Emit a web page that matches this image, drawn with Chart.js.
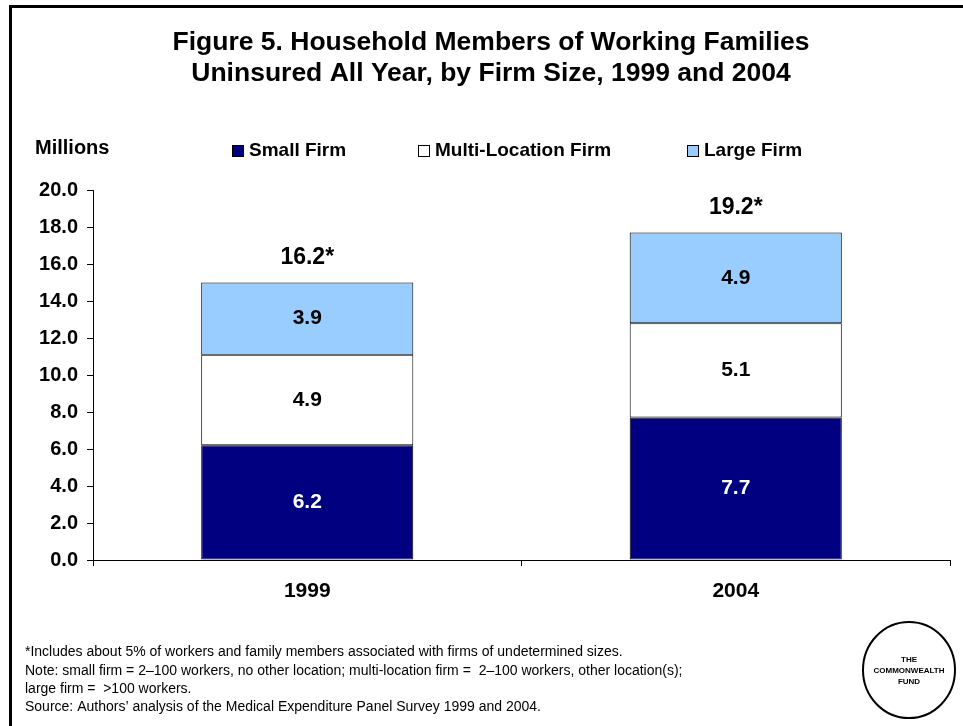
<!DOCTYPE html>
<html>
<head>
<meta charset="utf-8">
<script src="https://cdn.jsdelivr.net/npm/chart.js@4"></script>
<style>
  body { margin: 0; background: #fff; }
  canvas { display: block; }
</style>
</head>
<body>
<canvas id="chart" width="963" height="726"></canvas>
<script>
const years = ['1999', '2004'];
const smallFirm = [6.2, 7.7];
const multiLocation = [4.9, 5.1];
const largeFirm = [3.9, 4.9];
const totals = ['16.2*', '19.2*'];
const seriesNames = ['Small Firm', 'Multi-Location Firm', 'Large Firm'];
const seriesColors = ['#000080', '#ffffff', '#99ccff'];
const labelColors = ['#ffffff', '#000000', '#000000'];

const titleLines = [
  'Figure 5. Household Members of Working Families',
  'Uninsured All Year, by Firm Size, 1999 and 2004',
];
const notes = [
  '*Includes about 5% of workers and family members associated with firms of undetermined sizes.',
  'Note: small firm = 2\u2013100 workers, no other location; multi-location firm =  2\u2013100 workers, other location(s);',
  'large firm =  >100 workers.',
  'Source: Authors\u2019 analysis of the Medical Expenditure Panel Survey 1999 and 2004.',
];

const FONT = 'Arial, "Liberation Sans", sans-serif';

// draws frame, title, legend, notes, logo and value labels
const decor = {
  id: 'decor',
  afterDraw(chart) {
    const ctx = chart.ctx;
    ctx.save();

    ctx.lineWidth = 3;
    ctx.strokeStyle = '#000';
    ctx.strokeRect(10.5, 6.5, 1000, 800);

    ctx.fillStyle = '#000';
    ctx.textAlign = 'center';
    ctx.textBaseline = 'middle';
    ctx.font = 'bold 26.5px ' + FONT;
    ctx.fillText(titleLines[0], 491, 43);
    ctx.fillText(titleLines[1], 491, 74);

    ctx.textAlign = 'left';
    ctx.font = 'bold 20px ' + FONT;
    ctx.fillText('Millions', 35, 148);

    // legend
    ctx.font = 'bold 19px ' + FONT;
    const legendX = [232, 418, 687];
    seriesNames.forEach((name, i) => {
      ctx.fillStyle = seriesColors[i];
      ctx.fillRect(legendX[i], 145, 12, 12);
      ctx.lineWidth = 1;
      ctx.strokeStyle = '#000';
      ctx.strokeRect(legendX[i] + 0.5, 145.5, 11, 11);
      ctx.fillStyle = '#000';
      ctx.fillText(name, legendX[i] + 17, 151);
    });

    // segment values
    ctx.textAlign = 'center';
    ctx.font = 'bold 21px ' + FONT;
    chart.data.datasets.forEach((ds, i) => {
      chart.getDatasetMeta(i).data.forEach((bar, j) => {
        ctx.fillStyle = labelColors[i];
        ctx.fillText(ds.data[j].toFixed(1), bar.x, (bar.y + bar.base) / 2);
      });
    });

    // totals above the stacks
    ctx.fillStyle = '#000';
    ctx.font = 'bold 23px ' + FONT;
    const top = chart.getDatasetMeta(2).data;
    top.forEach((bar, j) => {
      ctx.fillText(totals[j], bar.x, bar.y - 25);
    });

    // notes
    ctx.textAlign = 'left';
    ctx.font = '14px ' + FONT;
    const noteY = [652, 671, 689, 707];
    notes.forEach((t, i) => ctx.fillText(t, 25, noteY[i]));

    // logo
    ctx.lineWidth = 2;
    ctx.beginPath();
    ctx.ellipse(909, 670, 46, 48, 0, 0, Math.PI * 2);
    ctx.stroke();
    ctx.textAlign = 'center';
    ctx.font = 'bold 8px ' + FONT;
    ctx.fillText('THE', 909, 660);
    ctx.fillText('COMMONWEALTH', 909, 671);
    ctx.fillText('FUND', 909, 682);

    ctx.restore();
  },
};

const datasetValues = [smallFirm, multiLocation, largeFirm];

new Chart(document.getElementById('chart'), {
  type: 'bar',
  data: {
    labels: years,
    datasets: datasetValues.map((vals, i) => ({
      label: seriesNames[i],
      data: vals,
      backgroundColor: seriesColors[i],
      borderColor: '#000',
      borderWidth: 1,
      borderSkipped: false,
      categoryPercentage: 1,
      barPercentage: 0.495,
    })),
  },
  options: {
    responsive: false,
    animation: false,
    layout: { padding: { top: 190, left: 0, right: 13, bottom: 116 } },
    plugins: {
      legend: { display: false },
      title: { display: false },
      tooltip: { enabled: false },
    },
    scales: {
      x: {
        stacked: true,
        grid: { offset: true, drawOnChartArea: false, color: '#000', tickLength: 6 },
        border: { color: '#000', width: 1 },
        ticks: { color: '#000', padding: 13, font: { family: FONT, size: 21, weight: 'bold' } },
        afterFit(scale) { scale.height = 50; },
      },
      y: {
        stacked: true,
        min: 0,
        max: 20,
        grid: { drawOnChartArea: false, color: '#000', tickLength: 6 },
        border: { color: '#000', width: 1 },
        ticks: {
          stepSize: 2,
          color: '#000',
          padding: 9,
          font: { family: FONT, size: 20, weight: 'bold' },
          callback: (v) => v.toFixed(1),
        },
        afterFit(scale) { scale.width = 93; },
      },
    },
  },
  plugins: [decor],
});
</script>
</body>
</html>
